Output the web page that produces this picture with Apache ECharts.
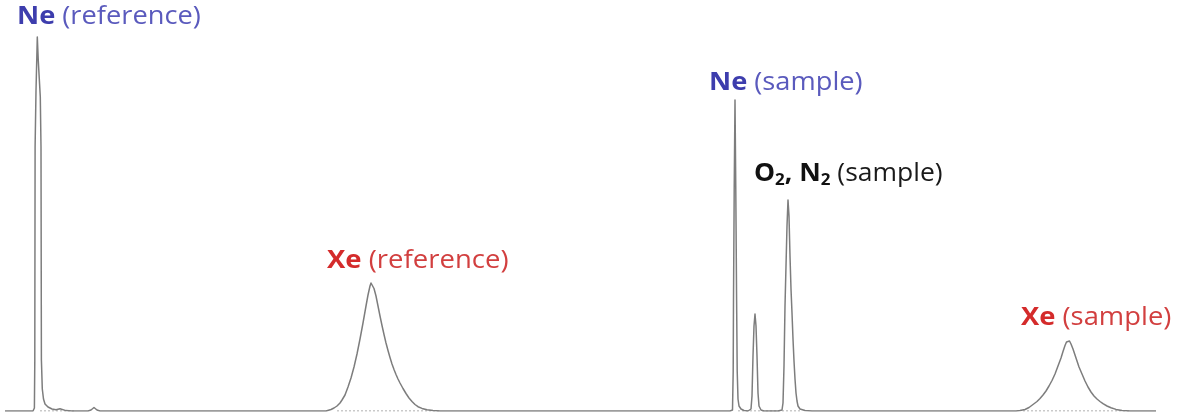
<!DOCTYPE html>
<html>
<head>
<meta charset="utf-8">
<script src="https://cdn.jsdelivr.net/npm/echarts@6/dist/echarts.min.js"></script>
<style>
  html, body { margin: 0; padding: 0; background: #ffffff; }
  #chart { width: 1178px; height: 418px; }
</style>
</head>
<body>
<div id="chart"></div>
<script>
// Detector trace: [retention time (s), signal above baseline (mV)]
const traceStart = [[5, 0]];
const neReferencePeak = [
  [33, 0], [34.4, 3], [34.8, 51], [35.1, 264], [36, 320], [37.3, 374],
  [38.3, 350], [40.3, 314], [41, 264], [41.4, 51], [42.3, 22], [43.5, 12],
  [45, 7], [48, 4], [52, 2], [56, 1.2], [58, 1.6], [60, 2.2], [62, 1.2],
  [66, 0.4], [72, 0]
];
const minorBump = [[88, 0], [91, 1], [93, 3], [94, 3.5], [95, 3], [97, 1], [100, 0]];
const xeReferencePeak = [
  [326, 0], [331, 1.5], [334, 3], [337, 5], [340, 8], [342, 11], [345, 16],
  [348, 24], [351, 33], [354, 44], [357, 57], [360, 72], [363, 88], [366, 105],
  [368, 116], [370, 125], [371, 128], [372, 127], [374, 122.5], [376, 115],
  [378, 105], [380, 95], [382, 85.5], [384, 76.5], [386, 68], [388, 60.5],
  [390, 53.5], [392, 47], [394, 41.5], [396, 36.5], [398, 32], [400, 28],
  [403, 22.5], [406, 17.5], [409, 13], [412, 9.5], [415, 6.5], [418, 4.3],
  [422, 2.6], [427, 1.3], [433, 0.5], [440, 0]
];
const neSamplePeak = [
  [730, 0], [732.5, 1], [733.2, 40], [733.5, 111], [734.2, 220], [735, 311],
  [735.8, 220], [736.6, 111], [737.2, 40], [738, 12], [739, 5], [741, 2],
  [744, 0.5], [748, 0]
];
const unknownPeak = [
  [749, 0], [751, 2], [752, 15], [753, 55], [754, 85], [755, 97], [756, 85],
  [757, 55], [758, 18], [759, 5], [761, 1], [764, 0]
];
const o2n2Peak = [
  [778, 0], [782, 1], [783, 8], [784, 45], [785, 105], [786, 145], [787, 185],
  [788, 211], [789, 195], [790, 155], [791, 122], [792, 98], [793, 72],
  [794, 50], [795, 32], [796, 18], [797, 10], [798, 5], [800, 2], [805, 0.5],
  [812, 0]
];
const xeSamplePeak = [
  [1016, 0], [1020, 0.4], [1025, 1.5], [1029, 3.5], [1033, 6.5], [1037, 9.5],
  [1040, 12.5], [1043, 16], [1046, 20], [1049, 25], [1052, 30.5], [1055, 37],
  [1058, 45], [1061, 53], [1063, 59.5], [1065, 65.5], [1066.5, 69], [1068, 71],
  [1069.5, 70], [1071, 67], [1073, 62], [1075, 56], [1077, 50], [1079, 44],
  [1082, 37], [1085, 30], [1088, 24], [1091, 19], [1094, 15], [1097, 12],
  [1100, 9.5], [1103, 7.3], [1107, 5], [1111, 3.2], [1116, 1.6], [1122, 0.6],
  [1130, 0]
];
const traceEnd = [[1156, 0]];

// Integration baselines drawn under the peaks
const integrationBaselines = [
  [[40, 0], [75, 0]],
  [[337, 0], [440, 0]],
  [[738, 0], [800, 0]],
  [[1023, 0], [1130, 0]]
];

// Peak annotations
const peakLabels = [
  { name: 'Ne', detail: '(reference)', tone: 'blue' },
  { name: 'Xe', detail: '(reference)', tone: 'red' },
  { name: 'Ne', detail: '(sample)', tone: 'blue' },
  { name: 'O2, N2', detail: '(sample)', tone: 'black' },
  { name: 'Xe', detail: '(sample)', tone: 'red' }
];

const trace = [].concat(traceStart, neReferencePeak, minorBump, xeReferencePeak,
  neSamplePeak, unknownPeak, o2n2Peak, xeSamplePeak, traceEnd);

const FONT = '"Open Sans", "Noto Sans", sans-serif';
const SIZE = 25;
const tones = {
  blue: { bold: '#3d3dad', light: '#5a5abd' },
  red: { bold: '#d42b2b', light: '#d23f3f' },
  black: { bold: '#111111', light: '#1a1a1a' }
};

function richFor(tone) {
  const c = tones[tone];
  return {
    b: { fontFamily: FONT, fontSize: SIZE, fontWeight: 'bold', fill: c.bold, lineHeight: 30 },
    r: { fontFamily: FONT, fontSize: SIZE, fill: c.light, lineHeight: 30 },
    sub: { fontFamily: FONT, fontSize: 16, fontWeight: 'bold', fill: c.bold, lineHeight: 22, verticalAlign: 'bottom' }
  };
}

function labelText(l) {
  const name = l.name.replace(/(\D)2/g, '$1}{sub|2}{b|');
  return '{b|' + name + '}{r| ' + l.detail + '}';
}

// Placement of each annotation (top-left of its text box, px) and its horizontal stretch
const labelSpots = [[17, 4], [327, 248], [709, 70], [754, 161], [1021, 305]];
const labelStretch = [1.09, 1.1, 1.09, 1.06, 1.095];

const chart = echarts.init(document.getElementById('chart'), null, { renderer: 'canvas' });

const series = [{
  type: 'line',
  data: trace,
  showSymbol: false,
  smooth: false,
  lineStyle: { color: '#7d7d7d', width: 1.5, join: 'round' },
  z: 3,
  silent: true
}];
integrationBaselines.forEach(seg => {
  series.push({
    type: 'line',
    data: seg,
    showSymbol: false,
    lineStyle: { color: '#a8a8a8', width: 1.2, type: [2, 2] },
    z: 2,
    silent: true
  });
});

chart.setOption({
  animation: false,
  backgroundColor: '#ffffff',
  grid: { left: 0, right: 0, top: 0, bottom: 7 },
  xAxis: { type: 'value', min: 0, max: 1178, show: false },
  yAxis: { type: 'value', min: 0, max: 411, show: false },
  series: series,
  graphic: peakLabels.map((l, i) => ({
    type: 'text',
    left: labelSpots[i][0],
    top: labelSpots[i][1],
    scaleX: labelStretch[i],
    z: 10,
    style: { text: labelText(l), rich: richFor(l.tone) }
  }))
});
</script>
</body>
</html>
